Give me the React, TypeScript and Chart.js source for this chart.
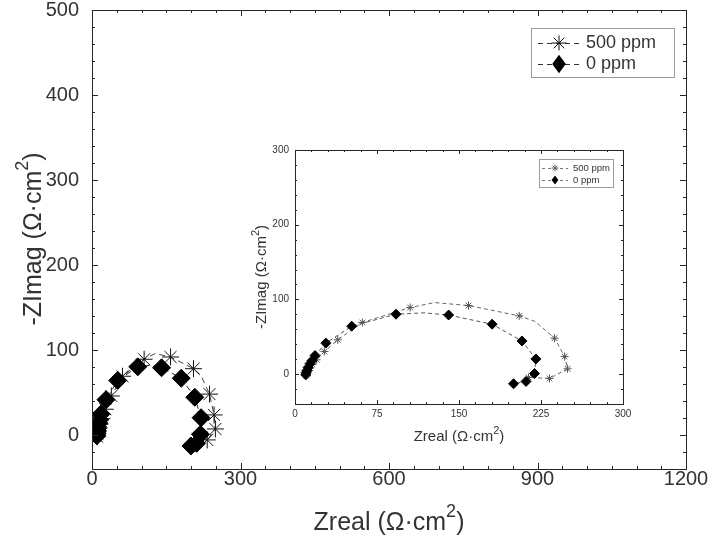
import React, { useEffect, useRef } from "react";
import { Chart, registerables } from "chart.js";

Chart.register(...registerables);

// ---------- data ----------
const seriesLabels = ["500 ppm", "0 ppm"];

const ppm500Zreal = [10.5, 11, 12, 13.7, 16, 19.8, 26.9, 39.1, 61.6, 105.3, 127.6, 158.7, 205.1, 219.7, 237.4, 246.6, 249.3, 232.8, 213.6];
const ppm500Zimag = [-2, 1, 4, 8, 13, 19.2, 30.3, 45.9, 69.1, 89.1, 95.8, 91.8, 78.0, 70.4, 48.1, 23.6, 7.1, -5.8, -4.5];
const ppm500Unmarked = [10, 13];

const ppm0Zreal = [9.8, 10.2, 11, 12, 13.7, 15.5, 18.3, 28.2, 51.9, 92.4, 118, 140.5, 180.3, 207.6, 220.3, 219.1, 211.3, 199.9];
const ppm0Zimag = [-1, 2, 5, 9, 14, 18, 24.8, 41.5, 64.2, 80.2, 82, 79.1, 66.8, 44.4, 20.3, 0.8, -9.8, -12.9];
const ppm0Unmarked = [10];

const mainXTicks = [0, 300, 600, 900, 1200];
const mainYTicks = [0, 100, 200, 300, 400, 500];
const insetXTicks = [0, 75, 150, 225, 300];
const insetYTicks = [0, 100, 200, 300];

const xTitle = ["Zreal (Ω·cm", "2", ")"];
const yTitle = ["-ZImag (Ω·cm", "2", ")"];

// ---------- helpers ----------
const AX = "#262626";
const LBL = "#333";
const FONT = "'Liberation Sans', Arial, Helvetica, sans-serif";

function toPoints(xs: number[], ys: number[]) {
  return xs.map((x, i) => ({ x, y: ys[i] }));
}

function drawSupText(ctx: CanvasRenderingContext2D, parts: string[], cx: number, cy: number, size: number, rotate: boolean) {
  ctx.save();
  ctx.translate(cx, cy);
  if (rotate) ctx.rotate(-Math.PI / 2);
  ctx.fillStyle = LBL;
  ctx.textBaseline = "middle";
  ctx.textAlign = "left";
  const big = `${size}px ${FONT}`;
  const small = `${Math.round(size * 0.72)}px ${FONT}`;
  ctx.font = big;
  const w0 = ctx.measureText(parts[0]).width;
  const w2 = ctx.measureText(parts[2]).width;
  ctx.font = small;
  const w1 = ctx.measureText(parts[1]).width;
  let x = -(w0 + w1 + w2) / 2;
  ctx.font = big;
  ctx.fillText(parts[0], x, 0);
  x += w0;
  ctx.font = small;
  ctx.fillText(parts[1], x, -size * 0.42);
  x += w1;
  ctx.font = big;
  ctx.fillText(parts[2], x, 0);
  ctx.restore();
}

interface DecorCfg {
  xStep: number;
  yStep: number;
  majorLen: number;
  minorLen: number;
  xMinor: number;
  yMinor: number;
  titleSize: number;
  xTitlePos: [number, number];
  yTitlePos: [number, number];
  legend: {
    box: [number, number, number, number];
    rows: number[];
    lineX: [number, number];
    textX: number;
    fontSize: number;
    starR: number;
    diamondR: number;
    dash: number[];
    starColor: string;
    lineColor: string;
  };
}

function makeDecor(cfg: DecorCfg) {
  return {
    id: "decor",
    afterDraw(chart: any) {
      const ctx: CanvasRenderingContext2D = chart.ctx;
      const { left, right, top, bottom } = chart.chartArea;
      const xs = chart.scales.x;
      const ys = chart.scales.y;
      ctx.save();
      ctx.strokeStyle = AX;
      ctx.lineWidth = 1;
      ctx.beginPath();
      for (let v = xs.min; v <= xs.max + 1e-9; v += cfg.xMinor) {
        const px = Math.round(xs.getPixelForValue(v)) + 0.5;
        const major = Math.abs(v / cfg.xStep - Math.round(v / cfg.xStep)) < 1e-6;
        const len = major ? cfg.majorLen : cfg.minorLen;
        ctx.moveTo(px, bottom);
        ctx.lineTo(px, bottom - len);
        ctx.moveTo(px, top);
        ctx.lineTo(px, top + len);
      }
      for (let v = ys.min; v <= ys.max + 1e-9; v += cfg.yMinor) {
        const py = Math.round(ys.getPixelForValue(v)) + 0.5;
        const major = Math.abs(v / cfg.yStep - Math.round(v / cfg.yStep)) < 1e-6;
        const len = major ? cfg.majorLen : cfg.minorLen;
        ctx.moveTo(left, py);
        ctx.lineTo(left + len, py);
        ctx.moveTo(right, py);
        ctx.lineTo(right - len, py);
      }
      ctx.stroke();
      ctx.strokeRect(Math.round(left) + 0.5, Math.round(top) + 0.5, Math.round(right - left), Math.round(bottom - top));
      ctx.restore();

      drawSupText(ctx, xTitle, cfg.xTitlePos[0], cfg.xTitlePos[1], cfg.titleSize, false);
      drawSupText(ctx, yTitle, cfg.yTitlePos[0], cfg.yTitlePos[1], cfg.titleSize, true);

      const L = cfg.legend;
      ctx.save();
      ctx.fillStyle = "#fff";
      ctx.fillRect(L.box[0], L.box[1], L.box[2], L.box[3]);
      ctx.strokeStyle = "#9a9a9a";
      ctx.lineWidth = 1;
      ctx.strokeRect(L.box[0] + 0.5, L.box[1] + 0.5, L.box[2], L.box[3]);
      const mid = (L.lineX[0] + L.lineX[1]) / 2;
      L.rows.forEach((ry, i) => {
        ctx.save();
        ctx.strokeStyle = L.lineColor;
        ctx.setLineDash(L.dash);
        ctx.beginPath();
        ctx.moveTo(L.lineX[0], ry + 0.5);
        ctx.lineTo(L.lineX[1], ry + 0.5);
        ctx.stroke();
        ctx.restore();
        if (i === 0) {
          ctx.save();
          ctx.strokeStyle = L.starColor;
          ctx.lineWidth = 1;
          const r = L.starR;
          ctx.beginPath();
          for (let k = 0; k < 4; k++) {
            const a = (k * Math.PI) / 4;
            ctx.moveTo(mid - r * Math.cos(a), ry - r * Math.sin(a));
            ctx.lineTo(mid + r * Math.cos(a), ry + r * Math.sin(a));
          }
          ctx.stroke();
          ctx.restore();
        } else {
          const r = L.diamondR;
          ctx.fillStyle = "#000";
          ctx.beginPath();
          ctx.moveTo(mid, ry - r * 1.15);
          ctx.lineTo(mid + r * 0.85, ry);
          ctx.lineTo(mid, ry + r * 1.15);
          ctx.lineTo(mid - r * 0.85, ry);
          ctx.closePath();
          ctx.fill();
        }
        ctx.fillStyle = LBL;
        ctx.font = `${L.fontSize}px ${FONT}`;
        ctx.textBaseline = "middle";
        ctx.textAlign = "left";
        ctx.fillText(seriesLabels[i], L.textX, ry);
      });
      ctx.restore();
    },
  };
}

function buildConfig(opts: {
  xMin: number; xMax: number; yMin: number; yMax: number;
  xTicks: number[]; yTicks: number[];
  tickSize: number; yAxisWidth: number; xAxisHeight: number;
  padding: { top: number; right: number; left: number; bottom: number };
  xPad: number; yPad: number;
  starR: number; diamondR: number; dash: number[];
  line500: string; star500: string; line0: string;
  decor: DecorCfg;
}) {
  const radius500 = (c: any) => (ppm500Unmarked.includes(c.dataIndex) ? 0 : opts.starR);
  const radius0 = (c: any) => (ppm0Unmarked.includes(c.dataIndex) ? 0 : opts.diamondR);
  const zeroPad = (s: any) => {
    s.paddingTop = 0;
    s.paddingBottom = 0;
    s.paddingLeft = 0;
    s.paddingRight = 0;
  };
  return {
    type: "scatter" as const,
    data: {
      datasets: [
        {
          label: seriesLabels[0],
          data: toPoints(ppm500Zreal, ppm500Zimag),
          showLine: true,
          borderColor: opts.line500,
          borderWidth: 1,
          borderDash: opts.dash,
          pointStyle: "star",
          pointRadius: radius500,
          pointBorderColor: opts.star500,
          pointBackgroundColor: opts.star500,
          pointBorderWidth: 1,
          order: 2,
        },
        {
          label: seriesLabels[1],
          data: toPoints(ppm0Zreal, ppm0Zimag),
          showLine: true,
          borderColor: opts.line0,
          borderWidth: 1,
          borderDash: opts.dash,
          pointStyle: "rectRot",
          pointRadius: radius0,
          pointBorderColor: "#000",
          pointBackgroundColor: "#000",
          pointBorderWidth: 1,
          order: 1,
        },
      ],
    },
    options: {
      animation: false as const,
      responsive: false,
      maintainAspectRatio: false,
      events: [],
      layout: { padding: opts.padding },
      plugins: { legend: { display: false }, tooltip: { enabled: false } },
      scales: {
        x: {
          type: "linear" as const,
          min: opts.xMin,
          max: opts.xMax,
          grid: { display: false, drawTicks: false },
          border: { display: false },
          afterBuildTicks: (s: any) => { s.ticks = opts.xTicks.map((v) => ({ value: v })); },
          afterFit: (s: any) => { s.height = opts.xAxisHeight; zeroPad(s); },
          ticks: {
            color: LBL,
            padding: opts.xPad,
            maxRotation: 0,
            callback: (v: any) => String(v),
            font: { family: FONT, size: opts.tickSize, lineHeight: 1 },
          },
        },
        y: {
          type: "linear" as const,
          min: opts.yMin,
          max: opts.yMax,
          grid: { display: false, drawTicks: false },
          border: { display: false },
          afterBuildTicks: (s: any) => { s.ticks = opts.yTicks.map((v) => ({ value: v })); },
          afterFit: (s: any) => { s.width = opts.yAxisWidth; zeroPad(s); },
          ticks: {
            color: LBL,
            padding: opts.yPad,
            callback: (v: any) => String(v),
            font: { family: FONT, size: opts.tickSize, lineHeight: 1 },
          },
        },
      },
    },
    plugins: [makeDecor(opts.decor)],
  };
}

export default function App() {
  const mainRef = useRef<HTMLCanvasElement>(null);
  const insetRef = useRef<HTMLCanvasElement>(null);

  useEffect(() => {
    // main chart: plot area x 92..686, y 9..469
    const mainCfg: any = buildConfig({
      xMin: 0, xMax: 1200, yMin: -40, yMax: 500,
      xTicks: mainXTicks, yTicks: mainYTicks,
      tickSize: 20, yAxisWidth: 92, xAxisHeight: 79,
      padding: { top: 9, right: 23, left: 0, bottom: 0 },
      xPad: 0, yPad: 13,
      starR: 8.5, diamondR: 9, dash: [6, 4],
      line500: "#444", star500: "#111", line0: "#222",
      decor: {
        xStep: 300, yStep: 100, majorLen: 6, minorLen: 3, xMinor: 50, yMinor: 20,
        titleSize: 25,
        xTitlePos: [389, 523],
        yTitlePos: [34, 239],
        legend: {
          box: [531, 28, 143, 49],
          rows: [43, 64],
          lineX: [538, 580],
          textX: 586,
          fontSize: 18,
          starR: 7.5,
          diamondR: 8,
          dash: [5, 4],
          starColor: "#111",
          lineColor: "#333",
        },
      },
    });
    // inset: canvas at (240,140) 410x310; plot area x 295..623, y 150..404
    const insetCfg: any = buildConfig({
      xMin: 0, xMax: 300, yMin: -40, yMax: 300,
      xTicks: insetXTicks, yTicks: insetYTicks,
      tickSize: 10, yAxisWidth: 55, xAxisHeight: 46,
      padding: { top: 10, right: 27, left: 0, bottom: 0 },
      xPad: 5, yPad: 6,
      starR: 4, diamondR: 5, dash: [4, 3],
      line500: "#666", star500: "#555", line0: "#555",
      decor: {
        xStep: 75, yStep: 100, majorLen: 4, minorLen: 2, xMinor: 15, yMinor: 20,
        titleSize: 15,
        xTitlePos: [219, 297],
        yTitlePos: [22, 137],
        legend: {
          box: [299, 19, 74, 28],
          rows: [28, 40],
          lineX: [302, 328],
          textX: 333,
          fontSize: 9.5,
          starR: 3.5,
          diamondR: 4,
          dash: [3, 3],
          starColor: "#666",
          lineColor: "#777",
        },
      },
    });
    const main = new Chart(mainRef.current as HTMLCanvasElement, mainCfg);
    const inset = new Chart(insetRef.current as HTMLCanvasElement, insetCfg);
    return () => {
      main.destroy();
      inset.destroy();
    };
  }, []);

  return (
    <div style={{ position: "absolute", left: 0, top: 0, width: 709, height: 548, background: "#fff" }}>
      <canvas ref={mainRef} width={709} height={548} style={{ position: "absolute", left: 0, top: 0, width: 709, height: 548 }} />
      <canvas ref={insetRef} width={410} height={310} style={{ position: "absolute", left: 240, top: 140, width: 410, height: 310 }} />
    </div>
  );
}
